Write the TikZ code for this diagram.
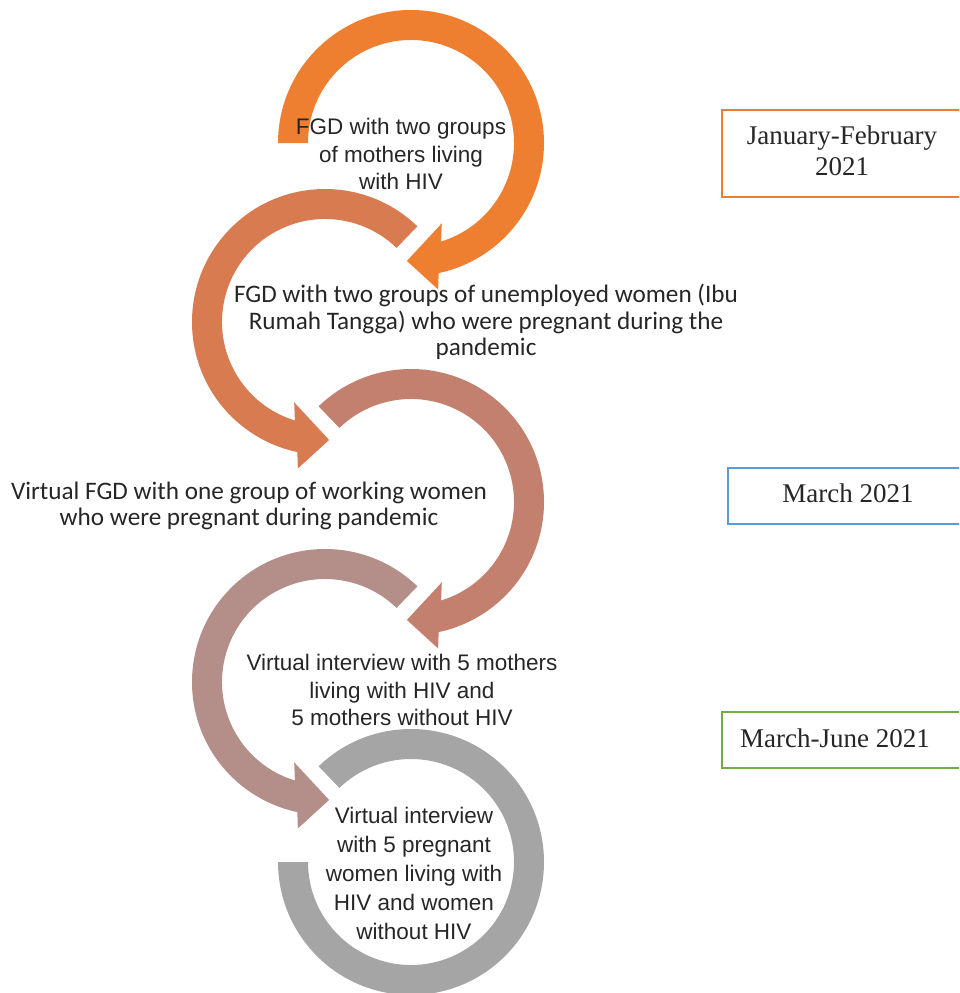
\documentclass[tikz,border=0pt]{standalone}
\usepackage{fontspec}
\usetikzlibrary{calc}
\newfontfamily\arialf{Liberation Sans}
\newfontfamily\calibf{Carlito}
\newfontfamily\timesf{Liberation Serif}
\definecolor{cA}{HTML}{EE7F31}
\definecolor{cB}{HTML}{D87B50}
\definecolor{cC}{HTML}{C4806F}
\definecolor{cD}{HTML}{B48E88}
\definecolor{cE}{HTML}{A5A5A5}
\definecolor{txt}{HTML}{262626}
\definecolor{bOr}{HTML}{ED7D31}
\definecolor{bBl}{HTML}{5B9BD5}
\definecolor{bGr}{HTML}{70AD47}
\newcommand\RingCW[3]{% center, start angle, colour
  \fill[#3] ($(#1)+(#2:133)$) arc[start angle=#2, end angle=-78, radius=133]
    -- ($(#1)+(-79.5:149)$) -- ($(#1)+(-92:118)$) -- ($(#1)+(-69:86)$)
    -- ($(#1)+(-73:103)$) arc[start angle=-73, end angle=#2, radius=103] -- cycle;}
\newcommand\RingCCW[3]{%
  \fill[#3] ($(#1)+(#2:133)$) arc[start angle=#2, end angle=258, radius=133]
    -- ($(#1)+(259.5:149)$) -- ($(#1)+(272:118)$) -- ($(#1)+(249:86)$)
    -- ($(#1)+(253:103)$) arc[start angle=253, end angle=#2, radius=103] -- cycle;}
\tikzset{
  ariall/.style={font=\arialf\fontsize{22.5}{27.5}\selectfont, text=txt, align=center, inner sep=0pt},
  caliblbl/.style={font=\calibf\fontsize{25.2}{26.5}\selectfont, text=txt, align=center, inner sep=0pt},
  datebox/.style={draw, line width=2.2pt, fill=white, inner sep=0pt},
  datetext/.style={font=\timesf\fontsize{27}{31}\selectfont, text=txt, align=center, inner sep=0pt},
}
\begin{document}
\begin{tikzpicture}[x=1pt,y=1pt]
\useasboundingbox (0,0) rectangle (959,-993);
\clip (0,0) rectangle (959,-993);
\coordinate (c1) at (411,-143);
\coordinate (c2) at (325,-322);
\coordinate (c3) at (411,-502);
\coordinate (c4) at (325,-682);
\coordinate (c5) at (411,-862);
\RingCW{c1}{180}{cA}
\RingCCW{c2}{46}{cB}
\RingCW{c3}{134}{cC}
\RingCCW{c4}{46}{cD}
\fill[cE] ($(c5)+(134:133)$) arc[start angle=134, end angle=-180, radius=133]
  -- ($(c5)+(180:103)$) arc[start angle=-180, end angle=134, radius=103] -- cycle;
\node[ariall] (t1) at (401,-154) {FGD with two groups\\of mothers living\\with HIV};
\node[caliblbl] (t2) at (486,-322) {FGD with two groups of unemployed women (Ibu\\Rumah Tangga) who were pregnant during the\\pandemic};
\node[caliblbl] (t3) at (249,-506) {Virtual FGD with one group of working women\\who were pregnant during pandemic};
\node[ariall] (t4) at (402,-690) {Virtual interview with 5 mothers\\living with HIV and\\5 mothers without HIV};
\node[ariall, font=\arialf\fontsize{22.5}{29}\selectfont] (t5) at (414,-873) {Virtual interview\\with 5 pregnant\\women living with\\HIV and women\\without HIV};
\node[datebox, draw=bOr, minimum width=260, minimum height=87, anchor=north west] (b1) at (721,-109) {};
\node[datetext] (d1) at (842,-151) {January-February\\2021};
\node[datebox, draw=bBl, minimum width=260, minimum height=56, anchor=north west] (b2) at (727,-467) {};
\node[datetext] (d2) at (848,-493) {March 2021};
\node[datebox, draw=bGr, minimum width=260, minimum height=56, anchor=north west] (b3) at (721,-711) {};
\node[datetext] (d3) at (835,-738) {March-June 2021};
\end{tikzpicture}
\end{document}
